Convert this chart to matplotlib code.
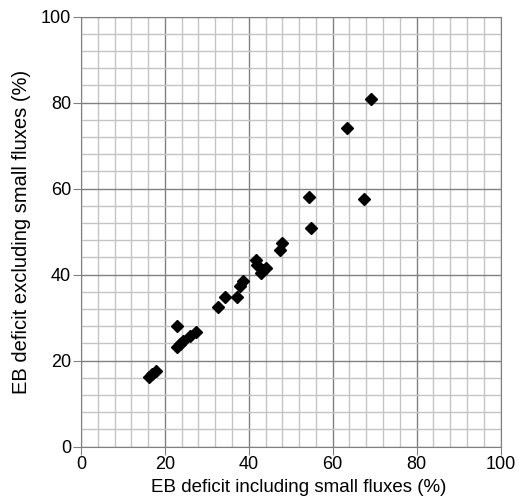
import numpy as np
import matplotlib.pyplot as plt
from matplotlib.ticker import MultipleLocator

# EB deficit (%)
incl_small = [16.3, 17.0, 17.9, 22.8, 23.0, 23.5, 24.4, 26.0, 27.3, 32.7,
              34.3, 37.2, 37.9, 38.6, 41.6, 42.0, 42.8, 43.4, 44.1, 47.4,
              47.8, 54.3, 54.9, 63.4, 67.5, 69.1]
excl_small = [16.3, 16.9, 17.5, 28.1, 23.1, 23.8, 24.5, 25.8, 26.6, 32.5,
              34.9, 34.8, 37.4, 38.5, 43.4, 42.2, 40.5, 41.2, 41.6, 45.8,
              47.3, 58.1, 50.8, 74.2, 57.7, 80.8]

plt.rcParams['font.family'] = ['Liberation Sans', 'DejaVu Sans']

fig = plt.figure(figsize=(5.19, 5.04), dpi=100)
ax = fig.add_axes([0.156, 0.1137, 0.8084, 0.8532])

ax.set_xlim(0, 100)
ax.set_ylim(0, 100)
ax.xaxis.set_major_locator(MultipleLocator(20))
ax.yaxis.set_major_locator(MultipleLocator(20))
ax.xaxis.set_minor_locator(MultipleLocator(4))
ax.yaxis.set_minor_locator(MultipleLocator(4))
ax.grid(which='minor', color='#c4c4c4', linewidth=1.0)
ax.grid(which='major', color='#808080', linewidth=1.0)
ax.set_axisbelow(True)

for s in ax.spines.values():
    s.set_color('#808080')
ax.tick_params(which='major', direction='out', length=6, color='#808080',
               labelsize=13, pad=1)
ax.tick_params(which='minor', length=0)

ax.plot(incl_small, excl_small, 'D', color='black', markersize=6, clip_on=False)

ax.set_xlabel('EB deficit including small fluxes (%)', fontsize=13.5, labelpad=5)
ax.xaxis.set_label_coords(0.52, -0.075)
ax.set_ylabel('EB deficit excluding small fluxes (%)', fontsize=14.5, labelpad=7)

fig.savefig('out.png', dpi=100)
